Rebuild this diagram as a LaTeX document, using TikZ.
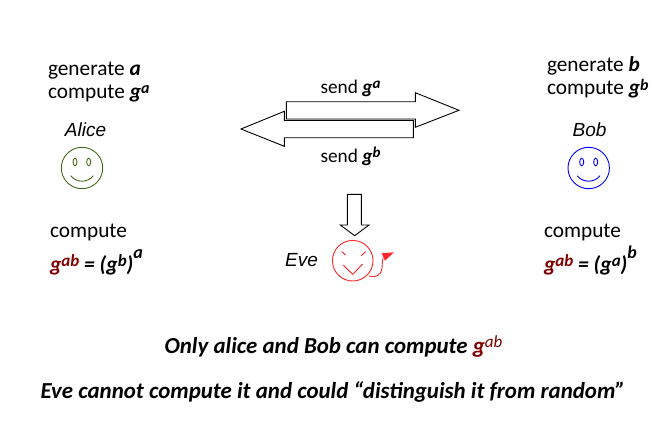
\documentclass[tikz,border=0pt]{standalone}
\usepackage{fontspec}
\setmainfont{Carlito}
\newfontfamily\namefont{Liberation Sans}
\definecolor{keyred}{RGB}{128,0,0}
\definecolor{alicegreen}{RGB}{70,105,25}
\definecolor{evered}{RGB}{250,40,40}
\newcommand{\supr}[2][15]{\raisebox{0.22em}{\fontsize{#1}{#1}\selectfont\bfseries\itshape #2}}
\newcommand{\supb}[1]{\raisebox{0.6em}{\fontsize{18}{18}\selectfont\bfseries\itshape #1}}
\tikzset{
  txt/.style={anchor=base west,inner sep=0pt,outer sep=0pt,font=\fontsize{21.3}{22}\selectfont},
  keytxt/.style={anchor=base west,inner sep=0pt,outer sep=0pt,font=\fontsize{21.5}{22}\selectfont},
  small/.style={anchor=base,inner sep=0pt,font=\fontsize{19.3}{20}\selectfont},
  who/.style={anchor=base,inner sep=0pt,font=\fontsize{19}{20}\selectfont\namefont\itshape},
  line/.style={anchor=base,inner sep=0pt,font=\fontsize{22.9}{24}\selectfont\bfseries\itshape},
  arrowbox/.style={draw=black,line width=0.9pt,line join=miter},
  face/.style={line width=0.9pt}
}
\begin{document}
\begin{tikzpicture}[x=1pt,y=-1pt]
\useasboundingbox (0,0) rectangle (672,436);
% Alice text
\node[txt] (gena) at (48,75) {generate \textbf{\textit{a}}};
\node[txt] (compa) at (48,98) {compute \textbf{\textit{g\supr[16]{a}}}};
\node[who] (alice) at (85.5,136) {Alice};
\node[txt] (comp1) at (50,237) {compute};
\node[keytxt] (keya) at (50,271) {\textbf{\textit{\textcolor{keyred}{g\supr[17]{ab}} = (g\supr[17]{b})\supb{a}}}};
% Bob text
\node[txt] (genb) at (547,72) {generate \textbf{\textit{b}}};
\node[txt] (compb) at (547,95) {compute \textbf{\textit{g\supr[16]{b}}}};
\node[who] (bob) at (589.5,136) {Bob};
\node[txt] (comp2) at (544,237) {compute};
\node[keytxt] (keyb) at (544,271) {\textbf{\textit{\textcolor{keyred}{g\supr[17]{ab}} = (g\supr[17]{a})\supb{b}}}};
% Send labels
\node[small] (senda) at (350.5,93) {send \textbf{\textit{g\supr{a}}}};
\node[small] (sendb) at (350.5,162) {send \textbf{\textit{g\supr{b}}}};
\node[who,anchor=base west] (eve) at (285,266) {Eve};
% Arrows
\draw[arrowbox] (286.3,101.7) -- (415.3,101.7) -- (415.3,92.7) -- (459,110.3) -- (415.3,127.3) -- (415.3,119) -- (286.3,119) -- cycle;
\draw[arrowbox] (241,129) -- (284.3,111.3) -- (284.3,120.3) -- (413.3,120.3) -- (413.3,137.7) -- (284.3,137.7) -- (284.3,146.3) -- cycle;
\draw[arrowbox] (347.3,194.3) -- (361.3,194.3) -- (361.3,225) -- (369,225) -- (354.7,235.7) -- (340.3,225) -- (347.3,225) -- cycle;
% Alice face
\begin{scope}[alicegreen,face]
\draw (82,168) circle (20.7);
\draw (75,162) ellipse (2 and 3.8);
\draw (88.7,162) ellipse (2 and 3.8);
\draw (70.7,175.7) .. controls (76,183) and (88,183) .. (93.3,175.7);
\end{scope}
% Bob face
\begin{scope}[blue,face]
\draw (588.7,168) circle (20.7);
\draw (581.7,162) ellipse (2 and 3.8);
\draw (595.7,162) ellipse (2 and 3.8);
\draw (577.3,175.7) .. controls (582.6,183) and (594.6,183) .. (600,175.7);
\end{scope}
% Eve face
\begin{scope}[evered,face]
\draw (352.7,260.7) circle (20.3);
\draw (341.7,251.7) -- (345.7,255);
\draw (365.7,251.7) -- (361.3,255.7);
\draw (343.3,265) -- (352.7,274.3) -- (362.7,264);
\draw (369,276) .. controls (376,277.5) and (381,276) .. (382,268) .. controls (382.5,265) and (382,262) .. (383,258);
\fill (381.7,253.3) -- (394,252.3) -- (385,260.7) -- cycle;
\end{scope}
% Bottom lines
\node[line] (only) at (333.5,353) {Only alice and Bob can compute \textcolor{keyred}{g\supr[17]{\mdseries ab}}};
\node[line] (cannot) at (333,398) {Eve cannot compute it and could “distinguish it from random”};
\end{tikzpicture}
\end{document}
